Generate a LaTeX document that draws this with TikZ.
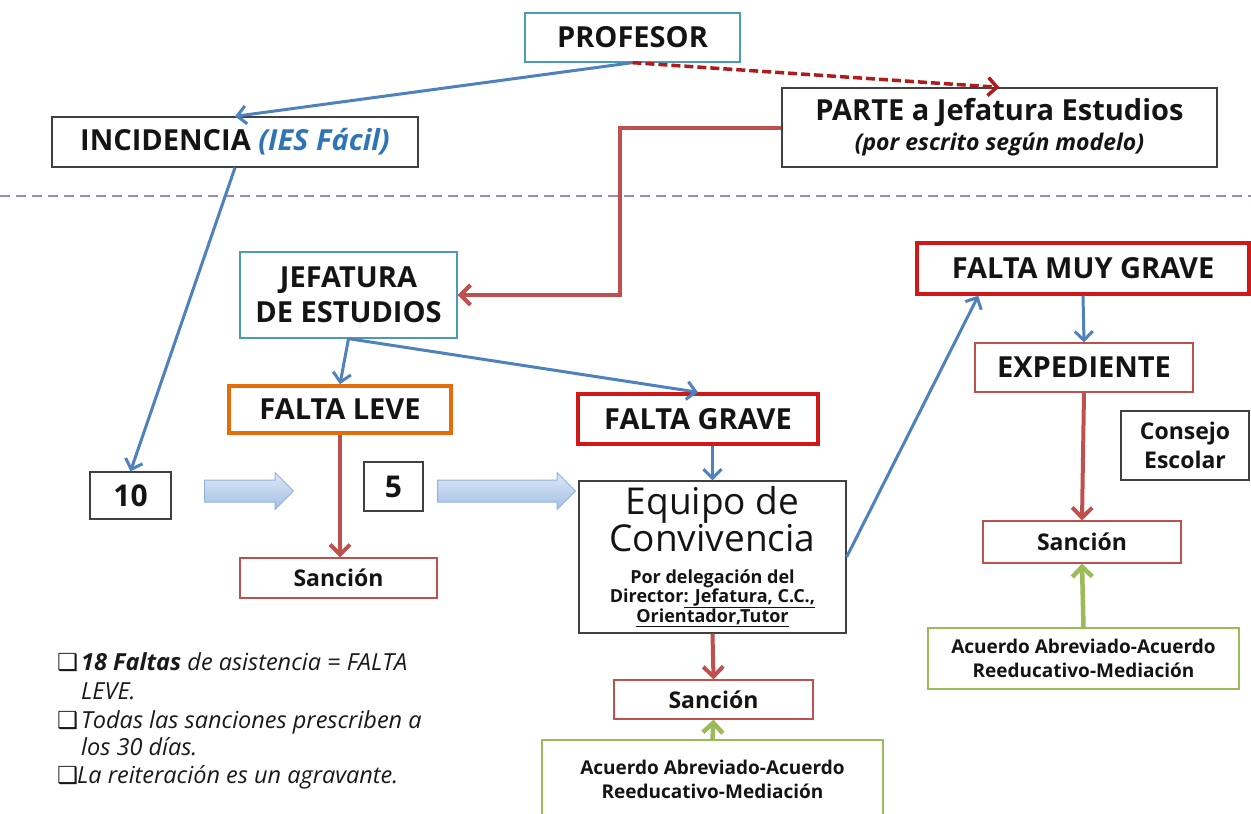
\documentclass[tikz,border=0pt]{standalone}
\usepackage{fontspec}
\setmainfont{Open Sans}
\newfontfamily\simbolos{DejaVu Sans}
\usetikzlibrary{arrows.meta,shapes.arrows}

\definecolor{azulof}{HTML}{4F81BD}
\definecolor{azultexto}{HTML}{2F75B5}
\definecolor{rojoof}{HTML}{C0504D}
\definecolor{rojofuerte}{HTML}{D01818}
\definecolor{rojooscuro}{HTML}{B01C1C}
\definecolor{naranja}{HTML}{E46C0A}
\definecolor{verdeof}{HTML}{9BBB59}
\definecolor{turquesa}{HTML}{4A9BB5}
\definecolor{lila}{HTML}{9A88B8}
\definecolor{azulborde}{HTML}{95B3D7}
\definecolor{azularriba}{HTML}{DDE7F5}
\definecolor{azulabajo}{HTML}{A3C0E8}

\newcommand{\casilla}[1]{{\simbolos\upshape\makebox[#1][l]{❑}}}

\begin{document}
\begin{tikzpicture}[x=1pt, y=-1pt,
    caja/.style={draw, line width=1.3pt, inner sep=0pt, align=center, text=black!92},
    cajanegra/.style={caja, draw=black!75},
    cajaturq/.style={caja, draw=turquesa},
    cajaroja/.style={caja, draw=rojoof, line width=1.2pt},
    cajagruesa/.style={caja, draw=rojofuerte, line width=3.5pt},
    cajanaranja/.style={caja, draw=naranja, line width=3.5pt},
    cajaverde/.style={caja, draw=verdeof, line width=1.2pt},
    titulo/.style={font=\fontsize{29}{35}\selectfont\bfseries},
    sancion/.style={font=\fontsize{23}{29}\selectfont\bfseries},
    acuerdo/.style={font=\fontsize{19}{24}\selectfont\bfseries},
    nota/.style={anchor=base west, inner sep=0pt, font=\fontsize{23.5}{28}\selectfont\itshape, text=black!90},
    flechaazul/.style={draw=azulof, line width=3pt, -{Straight Barb[length=9pt,width=18pt]}},
    flecharoja/.style={draw=rojoof, line width=4pt, -{Straight Barb[length=10pt,width=20pt]}},
    flechaverde/.style={draw=verdeof, line width=4.5pt, -{Straight Barb[length=10pt,width=20pt]}},
    flechadiscont/.style={draw=rojooscuro, line width=3.5pt, dash pattern=on 9pt off 4pt,
        -{Straight Barb[length=9pt,width=18pt]}},
    flechagorda/.style={single arrow, draw=azulborde, line width=1pt, top color=azularriba,
        bottom color=azulabajo, inner xsep=0pt, inner ysep=10.5pt, minimum width=36pt,
        single arrow head extend=7.5pt, single arrow tip angle=90}]

    \useasboundingbox (0,0) rectangle (1251,814);

    % Parte superior
    \node[cajaturq, titulo, minimum width=215, minimum height=49] (prof) at (632.5,37.5) {PROFESOR};
    \node[cajanegra, titulo, minimum width=366, minimum height=50] (inc) at (235,142)
        {INCIDENCIA \textcolor{azultexto}{\textit{(IES Fácil)}}};
    \node[cajanegra, titulo, minimum width=435, minimum height=79] (parte) at (999.5,127.5)
        {PARTE a Jefatura Estudios\\[-5pt]{\fontsize{23}{26}\selectfont\itshape (por escrito según modelo)}};

    % Linea divisoria
    \draw[lila, line width=1.2pt, dash pattern=on 10pt off 6pt] (0,196) -- (1251,196);

    % Jefatura y faltas
    \node[cajaturq, titulo, minimum width=217, minimum height=86] (jef) at (348.5,295) {JEFATURA\\DE ESTUDIOS};
    \node[cajanaranja, titulo, minimum width=222, minimum height=47] (leve) at (340,409.5) {FALTA LEVE};
    \node[cajagruesa, titulo, minimum width=240, minimum height=50] (grave) at (698,419) {FALTA GRAVE};
    \node[cajagruesa, titulo, minimum width=332, minimum height=51] (fmg) at (1083,268.5) {FALTA MUY GRAVE};
    \node[cajaroja, titulo, minimum width=218, minimum height=49] (exped) at (1084,367.5) {EXPEDIENTE};
    \node[cajanegra, sancion, minimum width=128, minimum height=69] (consejo) at (1185,445.5) {Consejo\\Escolar};

    % Contadores
    \node[cajanegra, font=\fontsize{30}{30}\selectfont\bfseries, minimum width=81, minimum height=47] (diez) at (130.5,495.5) {10};
    \node[cajanegra, font=\fontsize{30}{30}\selectfont\bfseries, minimum width=59, minimum height=49] (cinco) at (393.5,486.5) {5};
    \node[flechagorda, minimum height=89] (fa1) at (243.5,491) {};
    \node[flechagorda, minimum height=138] (fa2) at (501,491) {};

    % Equipo de convivencia
    \node[cajanegra, minimum width=267, minimum height=152] (equipo) at (712.5,557)
        {\parbox{262pt}{\centering
         \fontsize{37}{33}\selectfont Equipo de\\Convivencia\par\vspace{14pt}
         \fontsize{18}{17.5}\selectfont\bfseries Por delegación del\\
         Director\underline{: Jefatura, C.C.,}\\
         \underline{Orientador,Tutor}\par}};

    % Sanciones
    \node[cajaroja, sancion, minimum width=197, minimum height=40] (san1) at (338.5,578) {Sanción};
    \node[cajaroja, sancion, minimum width=199, minimum height=39] (san2) at (713.5,699.5) {Sanción};
    \node[cajaroja, sancion, minimum width=198, minimum height=42] (san3) at (1082,542) {Sanción};
    \node[cajaverde, acuerdo, minimum width=341, minimum height=78] (acu2) at (712.5,779)
        {Acuerdo Abreviado-Acuerdo\\Reeducativo-Mediación};
    \node[cajaverde, acuerdo, minimum width=311, minimum height=61] (acu3) at (1083.5,658.5)
        {Acuerdo Abreviado-Acuerdo\\Reeducativo-Mediación};

    % Conectores
    \draw[flechaazul] (prof.south) -- (inc.north);
    \draw[flechadiscont] (prof.south) -- (parte.north);
    \coordinate (codo) at (620,127.5);
    \draw[flecharoja] (parte.west) -- (codo) |- (jef.east);
    \draw[flechaazul] (inc.south) -- (diez.north);
    \draw[flechaazul] (jef.south) -- (leve.north);
    \draw[flechaazul] (jef.south) -- (grave.north);
    \draw[flecharoja] (leve.south) -- (leve.south |- san1.north);
    \draw[flechaazul] (equipo.north |- grave.south) -- (equipo.north);
    \draw[flecharoja] (equipo.south) -- (san2.north);
    \draw[flechaverde] (acu2.north) -- (san2.south);
    \draw[flechaazul] (equipo.east) -- ([xshift=63pt]fmg.south west);
    \draw[flechaazul] (fmg.south) -- (exped.north);
    \draw[flecharoja] (exped.south) -- (san3.north);
    \draw[flechaverde] (acu3.north) -- (san3.south);

    % Notas
    \foreach \x/\y/\txt in {57/670/{\casilla{24pt}\textbf{18 Faltas} de asistencia = FALTA},
                             81/699/{LEVE.},
                             57/728/{\casilla{24pt}Todas las sanciones prescriben a},
                             81/755/{los 30 días.},
                             57/783/{\casilla{20pt}La reiteración es un agravante.}}
        \node[nota] (nota\y) at (\x,\y) {\txt};
\end{tikzpicture}
\end{document}
